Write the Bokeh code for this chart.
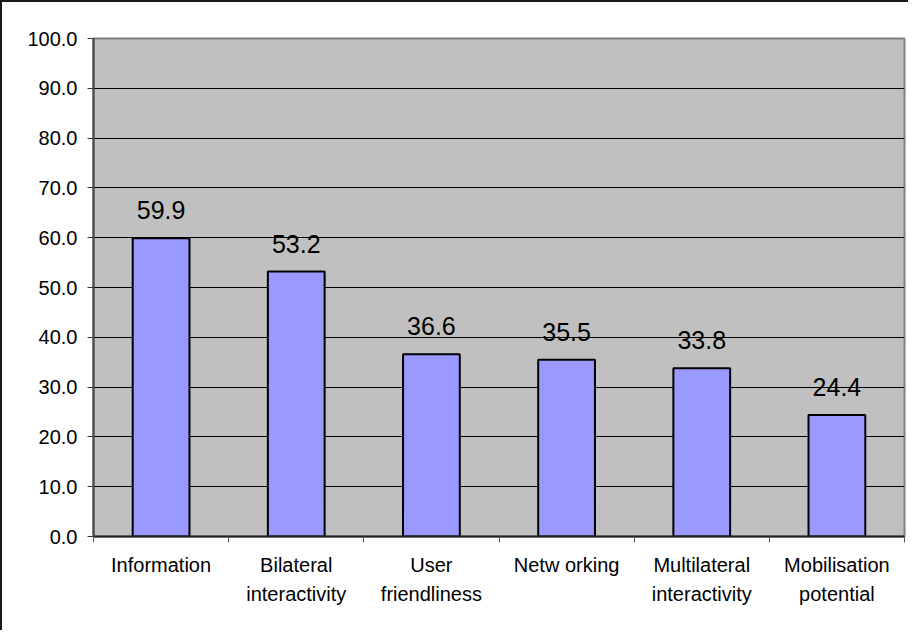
from bokeh.plotting import figure
from bokeh.models import Range1d, FixedTicker, ColumnDataSource, PrintfTickFormatter
from bokeh.embed import file_html
from bokeh.resources import INLINE
from bokeh.core.properties import value

categories = ["Information", "Bilateral\ninteractivity", "User\nfriendliness",
              "Netw orking", "Multilateral\ninteractivity", "Mobilisation\npotential"]
values = [59.9, 53.2, 36.6, 35.5, 33.8, 24.4]
y_ticks = [0, 10, 20, 30, 40, 50, 60, 70, 80, 90, 100]

FONT = "Liberation Sans"
n = len(categories)
centers = [i + 0.5 for i in range(n)]
labels = [f"{v:.1f}" for v in values]
source = ColumnDataSource(dict(x=centers, top=values, label=labels))

p = figure(width=908, height=630, x_range=Range1d(0, n), y_range=Range1d(0, 100),
           output_backend="svg", toolbar_location=None,
           min_border_left=91, min_border_top=36, min_border_right=6, min_border_bottom=96)
p.styles = {"border-left": "2px solid #1a1a1a", "border-top": "2px solid #1a1a1a"}

p.background_fill_color = "#C0C0C0"
p.border_fill_color = "white"
p.outline_line_color = "#808080"
p.outline_line_width = 2

# grid
p.xgrid.visible = False
p.ygrid.ticker = FixedTicker(ticks=y_ticks[1:-1])
p.ygrid.grid_line_color = "black"
p.ygrid.grid_line_width = 1

# bars
p.vbar(x="x", top="top", width=0.42, bottom=0, source=source,
       fill_color="#9999FF", line_color="black", line_width=2)

# data labels
p.text(x="x", y="top", text="label", source=source, text_align="center",
       text_baseline="alphabetic", y_offset=-28,
       text_font=value(FONT), text_font_size="25px", text_color="black")

# x axis
xa = p.xaxis[0]
xa.ticker = FixedTicker(ticks=centers, minor_ticks=list(range(n + 1)))
xa.major_label_overrides = {c: cat for c, cat in zip(centers, categories)}
xa.major_tick_out = 0
xa.major_tick_in = 0
xa.minor_tick_out = 6
xa.minor_tick_in = 0
xa.minor_tick_line_color = "#555555"
xa.axis_line_color = "#222222"
xa.axis_line_width = 2
xa.major_label_standoff = 11
xa.major_label_text_font = FONT
xa.major_label_text_font_size = "20px"
xa.major_label_text_color = "black"
xa.major_label_text_line_height = 1.35
xa.major_label_orientation = "horizontal"

# y axis
ya = p.yaxis[0]
ya.ticker = FixedTicker(ticks=y_ticks)
ya.formatter = PrintfTickFormatter(format="%.1f")
ya.major_tick_out = 6
ya.major_tick_in = 0
ya.minor_tick_out = 0
ya.minor_tick_in = 0
ya.major_tick_line_color = "#333333"
ya.axis_line_color = "#444444"
ya.axis_line_width = 2
ya.major_label_standoff = 10
ya.major_label_text_font = FONT
ya.major_label_text_font_size = "20px"
ya.major_label_text_color = "black"

open("out.html", "w").write(file_html(p, INLINE))
